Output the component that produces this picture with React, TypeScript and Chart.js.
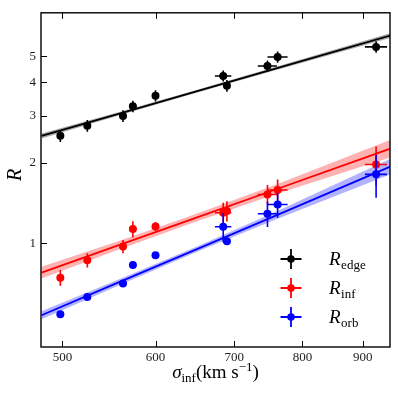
import React, { useEffect, useRef } from "react";
import { Chart, registerables } from "chart.js";

Chart.register(...registerables);

// ---- data ----
const sigma = [498, 525, 563, 574, 600, 685, 690, 747, 762, 924];
const sigmaErr = [3, 3, 4, 4, 4, 11, 4, 14, 15, 20];

const rEdge = [2.52, 2.75, 2.99, 3.25, 3.56, 4.22, 3.88, 4.6, 4.97, 5.42];
const rEdgeErr = [0.13, 0.14, 0.15, 0.16, 0.17, 0.2, 0.2, 0.22, 0.24, 0.27];

const rInf = [0.743, 0.864, 0.972, 1.129, 1.155, 1.3, 1.32, 1.52, 1.58, 1.97];
const rInfErr = [0.05, 0.053, 0.055, 0.08, 0.045, 0.115, 0.115, 0.13, 0.15, 0.33];

const rOrb = [0.542, 0.629, 0.707, 0.828, 0.901, 1.152, 1.017, 1.289, 1.395, 1.809];
const rOrbErr = [0.01, 0.01, 0.01, 0.01, 0.01, 0.145, 0.03, 0.14, 0.15, 0.33];

// fit lines and confidence bands
const fitX = [480, 560, 650, 760, 950];
const fitEdge = [2.518, 3.06, 3.695, 4.505, 5.976];
const fitEdgeLo = [2.465, 3.018, 3.649, 4.443, 5.851];
const fitEdgeHi = [2.572, 3.103, 3.742, 4.568, 6.104];
const fitInf = [0.776, 0.987, 1.246, 1.591, 2.256];
const fitInfLo = [0.738, 0.951, 1.206, 1.527, 2.091];
const fitInfHi = [0.816, 1.024, 1.287, 1.658, 2.434];
const fitOrb = [0.5374, 0.7177, 0.9484, 1.271, 1.932];
const fitOrbLo = [0.519, 0.6995, 0.927, 1.23, 1.807];
const fitOrbHi = [0.556, 0.736, 0.97, 1.313, 2.065];

const xTicks = [500, 600, 700, 800, 900];
const yTicks = [1, 2, 3, 4, 5];
const xRange = [479.5, 949.5];
const yRange = [0.409, 7.27];

const seriesNames = ["edge", "inf", "orb"];
const seriesColors = ["#000000", "#ff0000", "#0000ff"];
const bandColors = ["rgba(0,0,0,0.35)", "rgba(255,0,0,0.3)", "rgba(0,0,255,0.3)"];

const SERIF = "'Liberation Serif', 'DejaVu Serif', serif";

function pts(xs: number[], ys: number[]) {
  return xs.map((x, i) => ({ x, y: ys[i] }));
}

const customPlugin = {
  id: "custom",
  beforeDatasetDraw(chart: any, args: any) {
    const ds = chart.data.datasets[args.index];
    if (!ds.errY) return;
    const { ctx } = chart;
    const xs = chart.scales.x;
    const ys = chart.scales.y;
    ctx.save();
    ctx.strokeStyle = ds.backgroundColor;
    ctx.lineWidth = 1.6;
    ds.data.forEach((p: any, i: number) => {
      const px = xs.getPixelForValue(p.x);
      const py = ys.getPixelForValue(p.y);
      const y1 = ys.getPixelForValue(p.y - ds.errY[i]);
      const y2 = ys.getPixelForValue(p.y + ds.errY[i]);
      const x1 = xs.getPixelForValue(p.x - ds.errX[i]);
      const x2 = xs.getPixelForValue(p.x + ds.errX[i]);
      ctx.beginPath();
      ctx.moveTo(px, y1);
      ctx.lineTo(px, y2);
      ctx.moveTo(x1, py);
      ctx.lineTo(x2, py);
      ctx.stroke();
    });
    ctx.restore();
  },
  afterDraw(chart: any) {
    const { ctx, chartArea: a } = chart;
    const xs = chart.scales.x;
    const ys = chart.scales.y;
    ctx.save();
    // frame
    ctx.strokeStyle = "#000";
    ctx.lineWidth = 1.4;
    ctx.strokeRect(a.left, a.top, a.right - a.left, a.bottom - a.top);
    // inward ticks
    ctx.lineWidth = 1;
    ctx.beginPath();
    xTicks.forEach((v) => {
      const px = Math.round(xs.getPixelForValue(v)) + 0.5;
      ctx.moveTo(px, a.bottom);
      ctx.lineTo(px, a.bottom - 6);
      ctx.moveTo(px, a.top);
      ctx.lineTo(px, a.top + 6);
    });
    yTicks.forEach((v) => {
      const py = Math.round(ys.getPixelForValue(v)) + 0.5;
      ctx.moveTo(a.left, py);
      ctx.lineTo(a.left + 6, py);
    });
    ctx.stroke();

    // x title: sigma_inf (km s^-1)
    ctx.fillStyle = "#000";
    ctx.textBaseline = "alphabetic";
    const base = 378;
    const cx = (a.left + a.right) / 2;
    const parts: { t: string; f: string; dy: number }[] = [
      { t: "σ", f: `italic 19px ${SERIF}`, dy: 0 },
      { t: "inf", f: `13px ${SERIF}`, dy: 4 },
      { t: "(km s", f: `19px ${SERIF}`, dy: 0 },
      { t: "−1", f: `13px ${SERIF}`, dy: -7 },
      { t: ")", f: `19px ${SERIF}`, dy: 0 },
    ];
    let total = 0;
    parts.forEach((p) => {
      ctx.font = p.f;
      total += ctx.measureText(p.t).width;
    });
    let x = cx - total / 2;
    ctx.textAlign = "left";
    parts.forEach((p) => {
      ctx.font = p.f;
      ctx.fillText(p.t, x, base + p.dy);
      x += ctx.measureText(p.t).width;
    });

    // y title: R
    ctx.save();
    ctx.translate(21, 175);
    ctx.rotate(-Math.PI / 2);
    ctx.font = `italic 20px ${SERIF}`;
    ctx.textAlign = "center";
    ctx.fillText("R", 0, 0);
    ctx.restore();

    // legend
    const rows = [259, 288, 317];
    seriesNames.forEach((name, i) => {
      const mx = 291;
      const my = rows[i];
      ctx.strokeStyle = seriesColors[i];
      ctx.fillStyle = seriesColors[i];
      ctx.lineWidth = 1.8;
      ctx.beginPath();
      ctx.moveTo(mx - 10.5, my);
      ctx.lineTo(mx + 10.5, my);
      ctx.moveTo(mx, my - 10);
      ctx.lineTo(mx, my + 10);
      ctx.stroke();
      ctx.beginPath();
      ctx.arc(mx, my, 3.8, 0, Math.PI * 2);
      ctx.fill();
      ctx.fillStyle = "#000";
      ctx.textAlign = "left";
      ctx.font = `italic 19px ${SERIF}`;
      ctx.fillText("R", 329, my + 6);
      const w = ctx.measureText("R").width;
      ctx.font = `13px ${SERIF}`;
      ctx.fillText(name, 329 + w + 0.5, my + 9.5);
    });
    ctx.restore();
  },
};

export default function App() {
  const ref = useRef<HTMLCanvasElement | null>(null);
  useEffect(() => {
    if (!ref.current) return;
    const yVals = [rEdge, rInf, rOrb];
    const yErrs = [rEdgeErr, rInfErr, rOrbErr];
    const fits = [fitEdge, fitInf, fitOrb];
    const fitLo = [fitEdgeLo, fitInfLo, fitOrbLo];
    const fitHi = [fitEdgeHi, fitInfHi, fitOrbHi];

    const datasets: any[] = [];
    // bands: lower then upper (filled to lower)
    for (let i = 0; i < 3; i++) {
      const loIndex = datasets.length;
      datasets.push({
        label: `lo-${i}`,
        data: pts(fitX, fitLo[i]),
        showLine: true,
        borderWidth: 0,
        pointRadius: 0,
        borderColor: "rgba(0,0,0,0)",
        backgroundColor: "rgba(0,0,0,0)",
        fill: false,
        order: 20,
      });
      datasets.push({
        label: `hi-${i}`,
        data: pts(fitX, fitHi[i]),
        showLine: true,
        borderWidth: 0,
        pointRadius: 0,
        borderColor: "rgba(0,0,0,0)",
        backgroundColor: bandColors[i],
        fill: { target: loIndex },
        order: 20,
      });
    }
    for (let i = 0; i < 3; i++) {
      datasets.push({
        label: `fit-${i}`,
        data: pts(fitX, fits[i]),
        showLine: true,
        borderWidth: 1.8,
        pointRadius: 0,
        borderColor: seriesColors[i],
        backgroundColor: seriesColors[i],
        fill: false,
        order: 10,
      });
    }
    for (let i = 0; i < 3; i++) {
      datasets.push({
        label: `R_${seriesNames[i]}`,
        data: pts(sigma, yVals[i]),
        errY: yErrs[i],
        errX: sigmaErr,
        showLine: false,
        pointRadius: 4,
        pointBorderWidth: 0,
        backgroundColor: seriesColors[i],
        borderColor: seriesColors[i],
        order: 5 - i,
      });
    }

    const chart = new Chart(ref.current, {
      type: "scatter",
      data: { datasets },
      options: {
        animation: false,
        responsive: false,
        maintainAspectRatio: false,
        layout: { padding: { top: 7, right: 8, left: 0, bottom: 0 } },
        plugins: {
          legend: { display: false },
          tooltip: { enabled: false },
        },
        scales: {
          x: {
            type: "logarithmic",
            min: xRange[0],
            max: xRange[1],
            afterBuildTicks: (axis: any) => {
              axis.ticks = xTicks.map((v) => ({ value: v }));
            },
            afterFit: (axis: any) => {
              axis.height = 53;
            },
            grid: { display: false, drawTicks: false },
            border: { display: false },
            ticks: {
              autoSkip: false,
              maxRotation: 0,
              padding: 3,
              color: "#222",
              font: { family: SERIF, size: 13 },
              callback: (v: any) => String(v),
            },
          },
          y: {
            type: "logarithmic",
            min: yRange[0],
            max: yRange[1],
            afterBuildTicks: (axis: any) => {
              axis.ticks = yTicks.map((v) => ({ value: v }));
            },
            afterFit: (axis: any) => {
              axis.width = 41;
            },
            grid: { display: false, drawTicks: false },
            border: { display: false },
            ticks: {
              autoSkip: false,
              padding: 5,
              color: "#222",
              font: { family: SERIF, size: 13 },
              callback: (v: any) => String(v),
            },
          },
        },
      } as any,
      plugins: [customPlugin],
    });
    return () => chart.destroy();
  }, []);

  return (
    <div style={{ position: "fixed", left: 0, top: 0, width: 398, height: 400, background: "#fff" }}>
      <canvas ref={ref} width={398} height={400} style={{ width: 398, height: 400, display: "block" }} />
    </div>
  );
}
